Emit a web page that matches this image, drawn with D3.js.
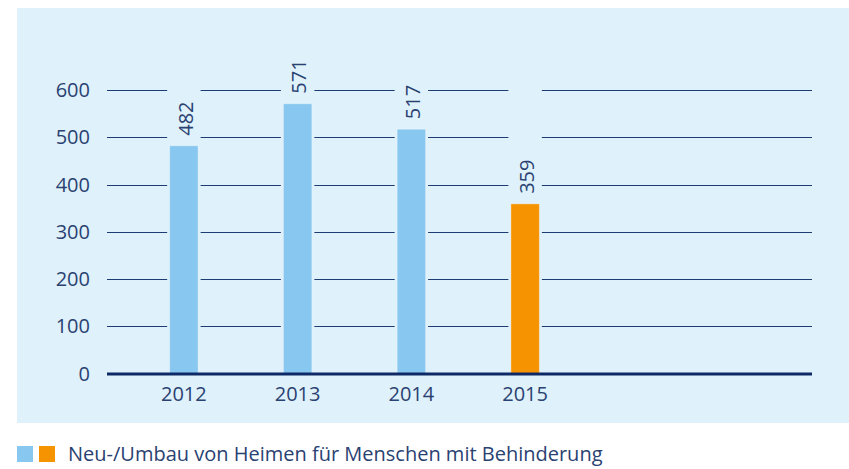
<!DOCTYPE html>
<html>
<head>
<meta charset="utf-8">
<script src="https://cdn.jsdelivr.net/npm/d3@7"></script>
<style>
  body { margin: 0; background: #fff; }
  text { font-family: "Open Sans", "Noto Sans", sans-serif; fill: #2a4272; }
</style>
</head>
<body>
<div id="wrapper"></div>
<script>
// data
const years = ["2012", "2013", "2014", "2015"]
const values = [482, 571, 517, 359]
const highlightYear = "2015"
const yTicks = [0, 100, 200, 300, 400, 500, 600]
const legendLabel = "Neu-/Umbau von Heimen für Menschen mit Behinderung"

const colors = {
  panel: "#dff1fa",
  bar: "#88c7ef",
  highlight: "#f59300",
  grid: "#1d3c74",
  axis: "#0e2a66",
}

let dimensions = {
  width: 849,
  height: 469,
  plotLeft: 107,
  plotRight: 812,
  plotTop: 90,
  plotBottom: 373.5,
}

const svg = d3.select("#wrapper").append("svg")
  .attr("width", dimensions.width)
  .attr("height", dimensions.height)

// panel
svg.append("rect")
  .attr("x", 17)
  .attr("y", 8)
  .attr("width", dimensions.width - 17)
  .attr("height", 415)
  .attr("fill", colors.panel)

// scales
const yScale = d3.scaleLinear()
  .domain([0, 600])
  .range([dimensions.plotBottom, dimensions.plotTop])

const xScale = d3.scaleBand()
  .domain(years)
  .range([127, 582])
  .paddingInner(0.75)
  .paddingOuter(0.375)

// gridlines
svg.selectAll(".grid")
  .data(yTicks.filter(d => d > 0))
  .enter().append("line")
  .attr("class", "grid")
  .attr("x1", dimensions.plotLeft)
  .attr("x2", dimensions.plotRight)
  .attr("y1", d => Math.round(yScale(d)) + 0.5)
  .attr("y2", d => Math.round(yScale(d)) + 0.5)
  .attr("stroke", colors.grid)
  .attr("stroke-width", 1)

// column gaps in the gridlines
svg.selectAll(".gap")
  .data(years)
  .enter().append("rect")
  .attr("x", d => xScale(d) - 2.5)
  .attr("width", xScale.bandwidth() + 5)
  .attr("y", dimensions.plotTop - 10)
  .attr("height", dimensions.plotBottom - dimensions.plotTop + 10)
  .attr("fill", colors.panel)

// bars
svg.selectAll(".bar")
  .data(values)
  .enter().append("rect")
  .attr("class", "bar")
  .attr("x", (d, i) => xScale(years[i]))
  .attr("width", xScale.bandwidth())
  .attr("y", d => yScale(d))
  .attr("height", d => dimensions.plotBottom - yScale(d))
  .attr("fill", (d, i) => years[i] === highlightYear ? colors.highlight : colors.bar)
  .attr("stroke", "rgba(255,255,255,0.35)")
  .attr("stroke-width", 1)

// value labels (rotated)
svg.selectAll(".value")
  .data(values)
  .enter().append("text")
  .attr("class", "value")
  .attr("transform", (d, i) => `translate(${xScale(years[i]) + xScale.bandwidth() / 2 + 1.5}, ${yScale(d) - 10}) rotate(-90)`)
  .attr("dy", "0.36em")
  .attr("font-size", 20)
  .text(d => d)

// y axis labels
svg.selectAll(".ytick")
  .data(yTicks)
  .enter().append("text")
  .attr("class", "ytick")
  .attr("x", 90)
  .attr("y", d => yScale(d))
  .attr("dy", "0.36em")
  .attr("text-anchor", "end")
  .attr("font-size", 20)
  .text(d => d)

// baseline
svg.append("line")
  .attr("x1", dimensions.plotLeft)
  .attr("x2", dimensions.plotRight)
  .attr("y1", dimensions.plotBottom + 0.5)
  .attr("y2", dimensions.plotBottom + 0.5)
  .attr("stroke", colors.axis)
  .attr("stroke-width", 3)

// x labels
svg.selectAll(".xtick")
  .data(years)
  .enter().append("text")
  .attr("class", "xtick")
  .attr("x", d => xScale(d) + xScale.bandwidth() / 2)
  .attr("y", 401)
  .attr("text-anchor", "middle")
  .attr("font-size", 20)
  .text(d => d)

// legend
const legend = svg.append("g")
legend.append("rect")
  .attr("x", 17).attr("y", 446).attr("width", 16).attr("height", 16)
  .attr("fill", colors.bar)
legend.append("rect")
  .attr("x", 39).attr("y", 446).attr("width", 16).attr("height", 16)
  .attr("fill", colors.highlight)
legend.append("text")
  .attr("x", 68)
  .attr("y", 461)
  .attr("font-size", 20)
  .text(legendLabel)
</script>
</body>
</html>
